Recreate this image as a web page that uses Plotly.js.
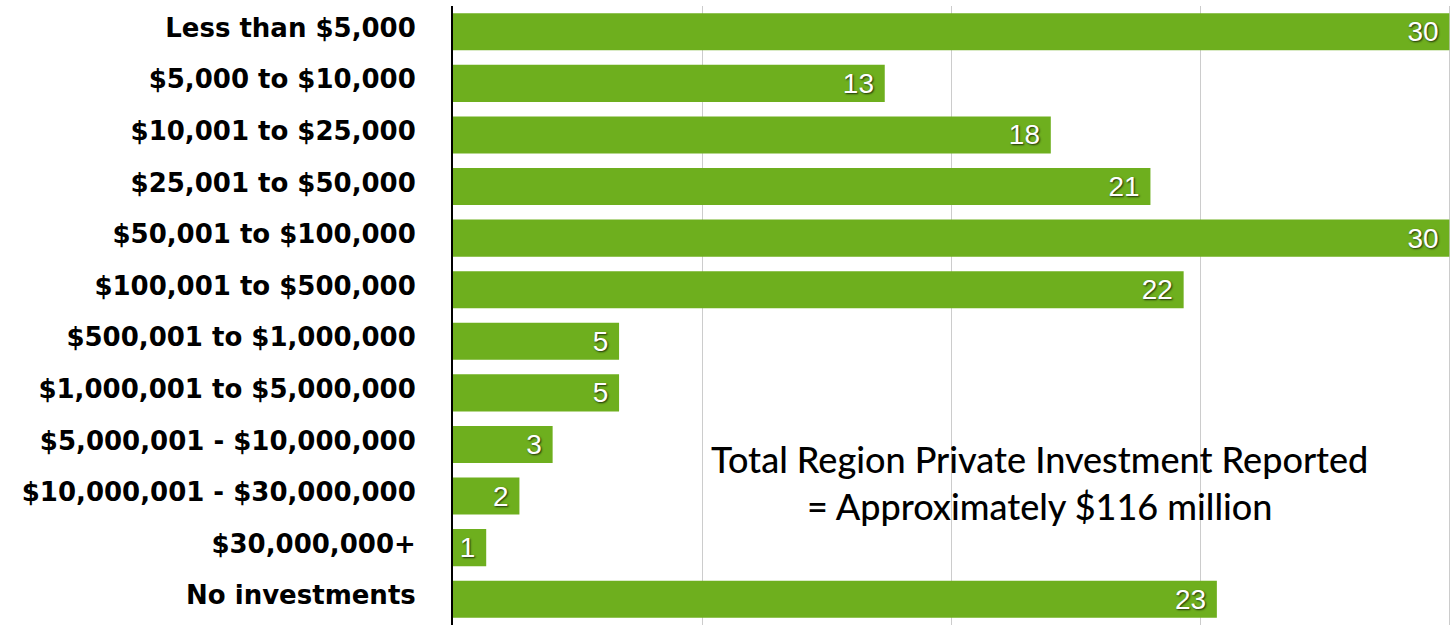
<!DOCTYPE html>
<html>
<head>
<meta charset="utf-8">
<script src="https://cdn.plot.ly/plotly-3.0.1.min.js"></script>
<style>html,body{margin:0;padding:0;background:#fff;}#chart{width:1455px;height:625px;}</style>
</head>
<body>
<div id="chart"></div>
<script>
const categories = [
  "Less than $5,000",
  "$5,000 to $10,000",
  "$10,001 to $25,000",
  "$25,001 to $50,000",
  "$50,001 to $100,000",
  "$100,001 to $500,000",
  "$500,001 to $1,000,000",
  "$1,000,001 to $5,000,000",
  "$5,000,001 - $10,000,000",
  "$10,000,001 - $30,000,000",
  "$30,000,000+",
  "No investments"
];
const counts = [30, 13, 18, 21, 30, 22, 5, 5, 3, 2, 1, 23];
const noteText = "Total Region Private Investment Reported<br>= Approximately $116 million";

const trace = {
  type: "bar",
  orientation: "h",
  y: categories,
  x: counts,
  text: counts.map(v => String(v) + "\u00a0"),
  textposition: "inside",
  insidetextanchor: "end",
  constraintext: "none",
  textangle: 0,
  insidetextfont: {family: "Liberation Sans, Arial, sans-serif", size: 28, color: "#ffffff", shadow: "1px 1px 2px rgba(0,0,0,0.75)"},
  marker: {color: "#6eaf1e", line: {width: 0}},
  hoverinfo: "none",
  cliponaxis: false
};

const layout = {
  width: 1455,
  height: 625,
  margin: {l: 453, r: 4, t: 6, b: 0, pad: 0},
  paper_bgcolor: "#ffffff",
  plot_bgcolor: "#ffffff",
  showlegend: false,
  bargap: 0.28,
  xaxis: {
    range: [0, 30.05],
    tick0: 0,
    dtick: 7.5,
    showticklabels: false,
    showgrid: true,
    gridcolor: "#cccccc",
    gridwidth: 1,
    zeroline: false,
    showline: false,
    fixedrange: true
  },
  yaxis: {
    type: "category",
    autorange: "reversed",
    showline: true,
    linecolor: "#000000",
    linewidth: 2,
    ticks: "",
    ticklabelstandoff: 30,
    ticklabelshift: 4,
    showgrid: false,
    tickfont: {family: "DejaVu Sans, sans-serif", size: 26, color: "#000000", weight: 700},
    fixedrange: true
  },
  annotations: [{
    text: noteText,
    xref: "x",
    yref: "paper",
    x: 17.65,
    y: 0.231,
    xanchor: "center",
    yanchor: "middle",
    showarrow: false,
    align: "center",
    font: {family: "Lato, sans-serif", size: 36, color: "#000000", weight: 500}
  }]
};

Plotly.newPlot("chart", [trace], layout, {displayModeBar: false, staticPlot: true});
</script>
</body>
</html>
